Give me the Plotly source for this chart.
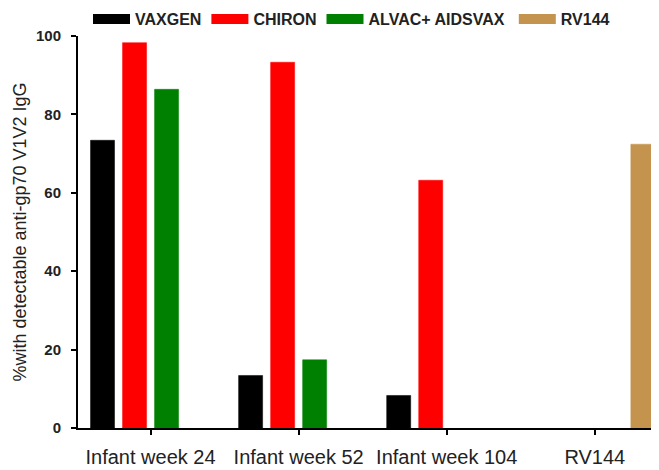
import plotly.graph_objects as go

categories = ["Infant week 24", "Infant week 52", "Infant week 104", "RV144"]
series_names = ["VAXGEN", "CHIRON", "ALVAC+ AIDSVAX", "RV144"]
vaxgen = [73.4, 13.4, 8.3, None]
chiron = [98.3, 93.3, 63.2, None]
alvac = [86.4, 17.4, None, None]
rv144 = [None, None, None, 72.4]
colors = ["#000000", "#FF0000", "#008000", "#C4944E"]

values = [vaxgen, chiron, alvac, rv144]
legend_pad = [0, 0, 1, 0]  # trailing non-breaking spaces for legend spacing

fig = go.Figure()
for name, vals, col in zip(series_names, values, colors):
    fig.add_trace(go.Bar(
        x=categories, y=vals, name=name,
        marker=dict(color=col, line=dict(color=col, width=0.5)),
        showlegend=False,
    ))
# legend entries (wide swatches)
for name, col, pad in zip(series_names, colors, legend_pad):
    fig.add_trace(go.Scatter(
        x=[None], y=[None], mode="lines", name=name + "\u00a0" * pad,
        line=dict(color=col, width=12), showlegend=True,
    ))

W, H = 651, 462  # page body has an 8px margin

fig.update_layout(
    width=W, height=H,
    margin=dict(l=70, r=2, t=28, b=42, autoexpand=False),
    plot_bgcolor="white", paper_bgcolor="white",
    barmode="group", bargap=0.135, bargroupgap=0.25,
    font=dict(family="Liberation Sans, Arial, sans-serif", color="#222222"),
    legend=dict(
        orientation="h", xref="container", yref="container",
        x=80 / W, xanchor="left", y=1 - 11 / H, yanchor="middle",
        font=dict(size=16, family="Liberation Sans, Arial, sans-serif", color="#222222", weight="bold"),
        itemsizing="trace", itemwidth=37, tracegroupgap=0, bgcolor="rgba(0,0,0,0)",
    ),
    xaxis=dict(
        type="category", range=[-0.49, 3.42],
        showline=True, linecolor="black", linewidth=2,
        ticks="outside", ticklen=5, tickwidth=2, tickcolor="black",
        tickfont=dict(size=20, color="#222222"),
        ticklabelstandoff=5, showgrid=False, zeroline=False,
    ),
    yaxis=dict(
        range=[0, 100], tickvals=[0, 20, 40, 60, 80, 100],
        showline=True, linecolor="black", linewidth=2,
        ticks="outside", ticklen=5, tickwidth=2, tickcolor="black",
        tickfont=dict(size=15, color="#222222", weight="bold"),
        ticklabelstandoff=7, showgrid=False, zeroline=False,
        title=dict(text="%with detectable anti-gp70 V1V2 IgG",
                   font=dict(size=18, color="#222222"), standoff=5),
    ),
)

fig.write_html("out.html")
